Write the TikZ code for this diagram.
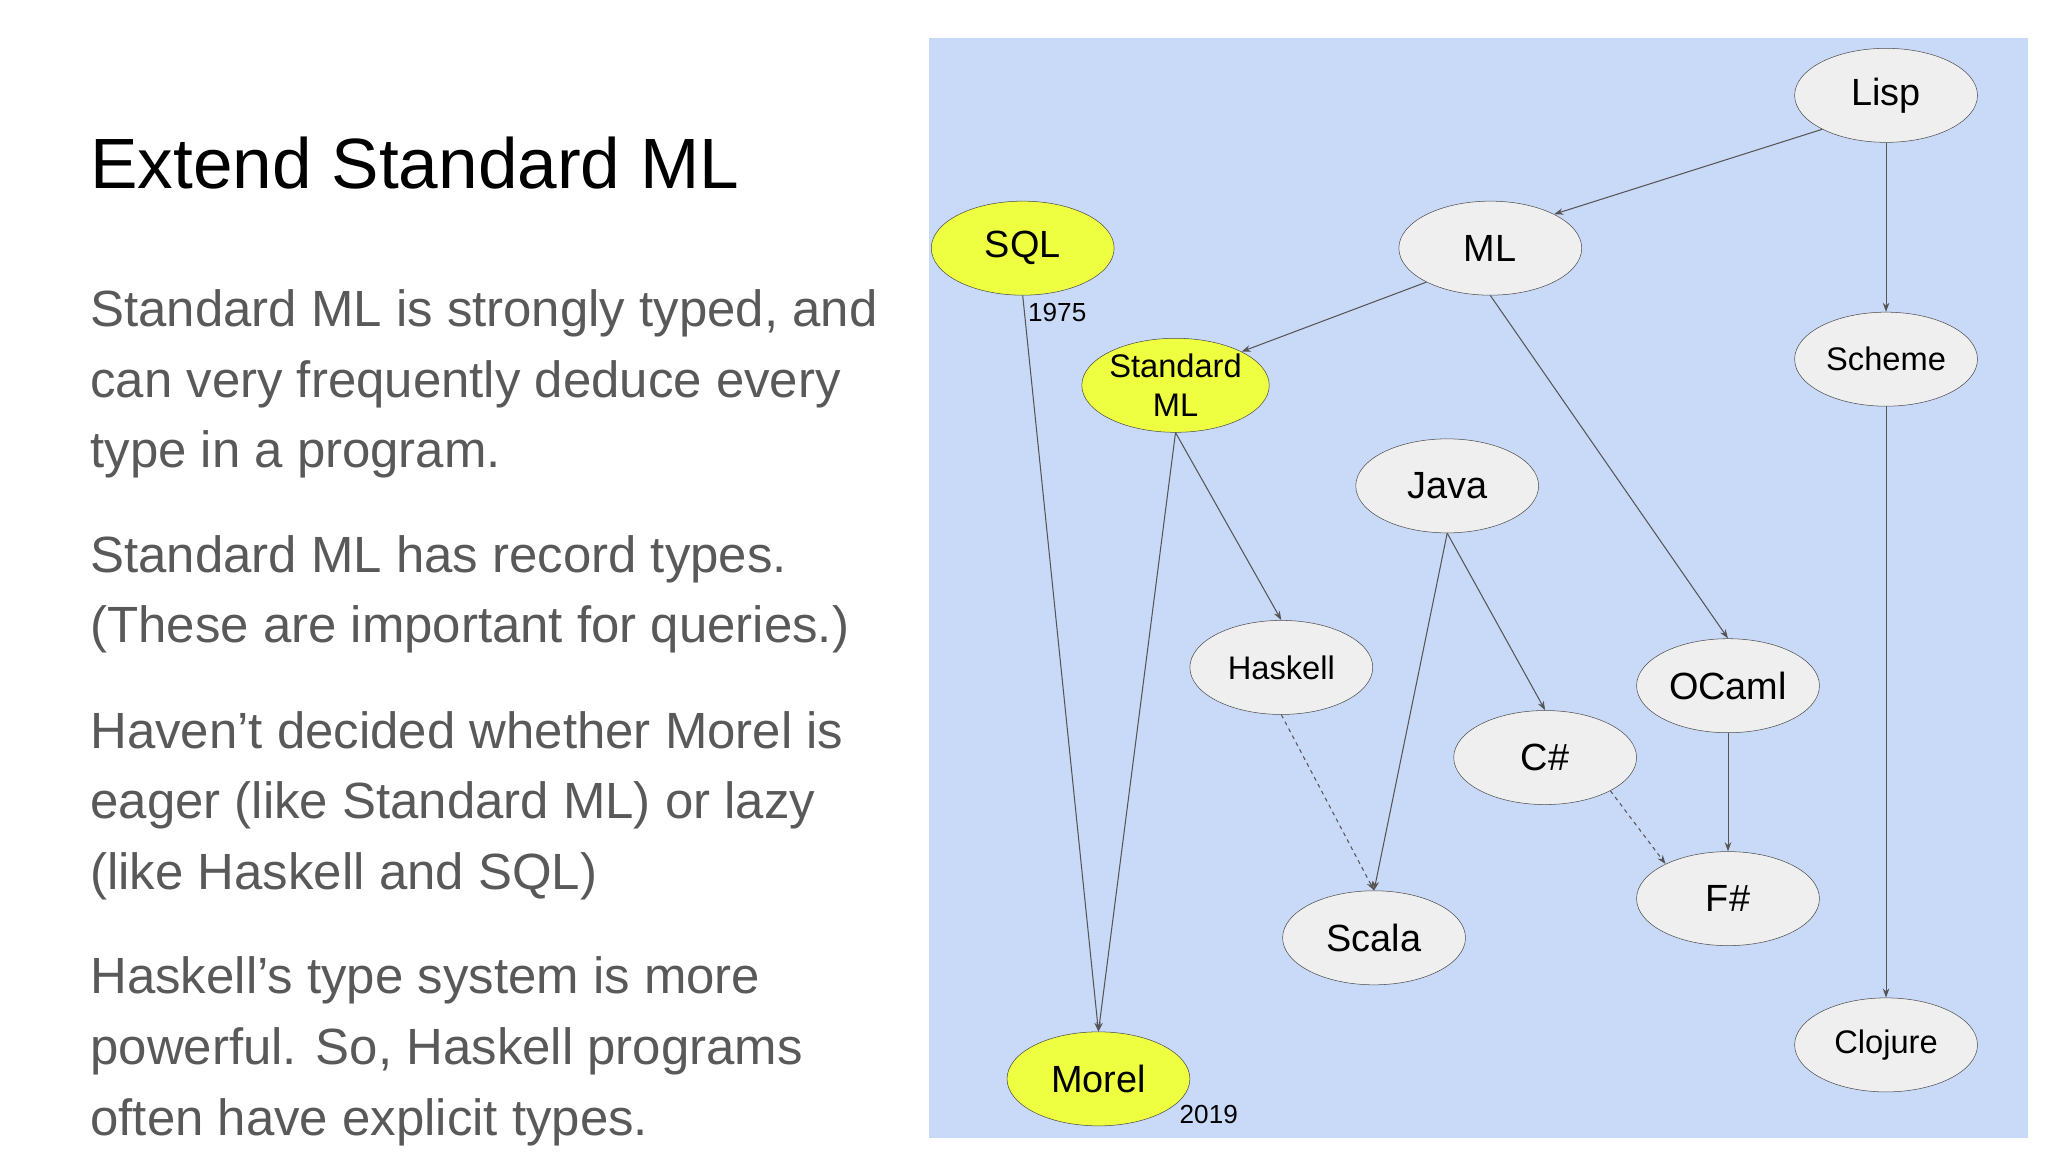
\documentclass[tikz,border=0pt]{standalone}
\usepackage{fontspec}
\setmainfont{Liberation Sans}
\usetikzlibrary{shapes.geometric,arrows.meta}
\definecolor{panel}{HTML}{C9DAF8}
\definecolor{nodegray}{HTML}{EFEFEF}
\definecolor{yel}{HTML}{EEFF41}
\definecolor{txt}{HTML}{595959}
\definecolor{edge}{HTML}{555555}
\tikzset{
 lang/.style={ellipse,draw=black!70,fill=nodegray,minimum width=140pt,minimum height=72pt,inner sep=0pt,font=\fontsize{29}{31}\selectfont,align=center},
 hl/.style={lang,fill=yel},
 sm/.style={font=\fontsize{25}{30}\selectfont},
 conn/.style={draw=edge,line width=0.8pt,-{Stealth[length=7pt,width=5pt]}},
 body/.style={anchor=base west,text=txt,font=\fontsize{39}{41}\selectfont,inner sep=0pt},
 yr/.style={font=\fontsize{20}{22}\selectfont,inner sep=1pt}
}
\begin{document}
\begin{tikzpicture}[x=1pt,y=-1pt]
\useasboundingbox (0,0) rectangle (1568,882);
\fill[white] (0,0) rectangle (1568,882);
\fill[panel] (711,29) rectangle (1553,871);
\node[anchor=base west,inner sep=0pt,font=\fontsize{54.5}{58}\selectfont] (title) at (69,144) {Extend Standard ML};
\node[body] (l1) at (69,250) {Standard ML is strongly typed, and};
\node[body] (l2) at (69,304) {can very frequently deduce every};
\node[body] (l3) at (69,358) {type in a program.};
\node[body] (l4) at (69,438) {Standard ML has record types.};
\node[body] (l5) at (69,492) {(These are important for queries.)};
\node[body] (l6) at (69,573) {Haven’t decided whether Morel is};
\node[body] (l7) at (69,627) {eager (like Standard ML) or lazy};
\node[body] (l8) at (69,681) {(like Haskell and SQL)};
\node[body] (l9) at (69,761) {Haskell’s type system is more};
\node[body] (l10) at (69,815) {powerful. So, Haskell programs};
\node[body] (l11) at (69,869) {often have explicit types.};

\node[lang] (lisp) at (1444,73) {Lisp};
\node[lang] (ml) at (1141,190) {ML};
\node[hl] (sql) at (783,190) {SQL};
\node[lang,sm] (scheme) at (1444,275) {Scheme};
\node[hl,sm] (sml) at (900,295) {Standard\\ML};
\node[lang] (java) at (1108,372) {Java};
\node[lang,sm] (haskell) at (981,511) {Haskell};
\node[lang] (ocaml) at (1323,525) {OCaml};
\node[lang] (cs) at (1183,580) {C\#};
\node[lang] (fs) at (1323,688) {F\#};
\node[lang] (scala) at (1052,718) {Scala};
\node[lang,sm] (clojure) at (1444,800) {Clojure};
\node[hl] (morel) at (841,826) {Morel};
\node[yr,anchor=west] (y1) at (786,239) {1975};
\node[yr,anchor=west] (y2) at (902,853) {2019};

\draw[conn] (lisp.208) -- (ml.28);
\draw[conn] (lisp.south) -- (scheme.north);
\draw[conn] (ml.208) -- (sml.27);
\draw[conn] (ml.south) -- (ocaml.north);
\draw[conn] (sql.south) -- (morel.north);
\draw[conn] (sml.south) -- (morel.north);
\draw[conn] (sml.south) -- (haskell.north);
\draw[conn] (java.south) -- (scala.north);
\draw[conn] (java.south) -- (cs.north);
\draw[conn,dashed] (haskell.south) -- (scala.north);
\draw[conn,dashed] (cs.-27) -- (fs.151);
\draw[conn] (ocaml.south) -- (fs.north);
\draw[conn] (scheme.south) -- (clojure.north);
\end{tikzpicture}
\end{document}
